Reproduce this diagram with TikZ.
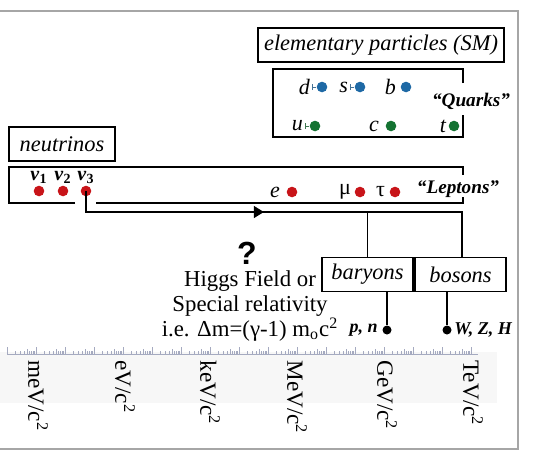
\documentclass[tikz,border=0pt]{standalone}
\usepackage{fontspec}
\setmainfont{Liberation Serif}
\newfontfamily\qmarkfont{Liberation Sans}
\usepackage{tikz}
\usetikzlibrary{arrows.meta, positioning, decorations.markings}
\usepackage{xcolor}

\definecolor{dotred}{RGB}{200,20,25}
\definecolor{dotblue}{RGB}{30,105,165}
\definecolor{dotgreen}{RGB}{20,115,50}
\definecolor{rulergray}{RGB}{165,170,192}

\tikzset{
  labelbox/.style={draw, line width=0.65pt, inner sep=0pt, minimum height=17pt, font=\fontsize{11.2}{13}\selectfont\itshape},
  pdot/.style={circle, fill=#1, inner sep=0pt, minimum size=5.3pt},
  enddot/.style={circle, fill=black, inner sep=0pt, minimum size=4.5pt},
  bracket/.style={line width=1pt},
  partlabel/.style={inner sep=0pt, font=\fontsize{11}{12}\selectfont\itshape},
  grouplabel/.style={inner sep=0pt, font=\fontsize{9.6}{11}\selectfont\bfseries\itshape},
  scaletext/.style={rotate=-90, anchor=west, inner sep=0pt, font=\fontsize{11.6}{14}\selectfont},
}

\begin{document}
\begin{tikzpicture}[x=0.5pt, y=-0.5pt]
  \useasboundingbox (0,0) rectangle (534,462);
  % frame and faint band behind the scale
  \fill[black!3] (0,352) rectangle (497,403);
  \draw[gray!70, line width=0.6pt] (-5,11) -- (518,11) -- (518,449) -- (-5,449);

  % title boxes
  \node[labelbox, minimum width=123pt] (sm) at (381,45) {elementary particles (SM)};
  \node[labelbox, minimum width=53pt] (neutrinos) at (62,144) {neutrinos};

  % quarks
  \draw[bracket] (463,83) -- (463,69) -- (273,69) -- (273,137) -- (463,137) -- (463,115);
  \node[pdot=dotblue] (d) at (322,87) {};
  \node[pdot=dotblue] (s) at (360,87) {};
  \node[pdot=dotblue] (b) at (406,87) {};
  \node[pdot=dotgreen] (u) at (315,126) {};
  \node[pdot=dotgreen] (c) at (391,126) {};
  \node[pdot=dotgreen] (t) at (454,126) {};
  \node[partlabel, left=3pt of d] (d-label) {d};
  \node[partlabel, left=3pt of s] (s-label) {s};
  \node[partlabel, left=2pt of b] (b-label) {b};
  \node[partlabel, left=3pt of u] (u-label) {u};
  \node[partlabel, left=3pt of c] (c-label) {c};
  \node[partlabel, left=1pt of t] (t-label) {t};
  \draw[dotblue!60!gray, line width=0.4pt, {Bar[width=3pt]}-] ([xshift=0.6pt]d-label.east) -- (d.west);
  \draw[dotblue!60!gray, line width=0.4pt, {Bar[width=3pt]}-] ([xshift=0.6pt]s-label.east) -- (s.west);
  \draw[dotgreen!60!gray, line width=0.4pt, {Bar[width=3pt]}-] ([xshift=0.6pt]u-label.east) -- (u.west);
  \node[grouplabel] (quarks) at (471,101) {``Quarks''};

  % leptons
  \draw[bracket] (75,203) -- (9,203) -- (9,167) -- (463,167) -- (463,175);
  \draw[bracket] (96,203) -- (463,203) -- (463,197);
  \node[pdot=dotred] (nu1) at (39,191) {};
  \node[pdot=dotred] (nu2) at (63,191) {};
  \node[pdot=dotred] (nu3) at (86,191) {};
  \node[pdot=dotred] (e) at (292,192) {};
  \node[pdot=dotred] (mu) at (360,192) {};
  \node[pdot=dotred] (tau) at (395,192) {};
  \foreach \n/\i in {nu1/1, nu2/2, nu3/3}
    \node[inner sep=0pt, above=0.8pt of \n, font=\fontsize{10}{11}\selectfont\bfseries] (\n-label) {\textit{ν}\textsubscript{\i}};
  \node[partlabel, left=3pt of e] (e-label) {e};
  \node[inner sep=0pt, left=1.5pt of mu, font=\fontsize{11}{12}\selectfont] (mu-label) {μ};
  \node[inner sep=0pt, left=2pt of tau, font=\fontsize{11}{12}\selectfont] (tau-label) {τ};
  \node[grouplabel] (leptons) at (458,189) {``Leptons''};

  % composite particles
  \node[labelbox, minimum width=45.5pt] (baryons) at (367.5,274.5) {baryons};
  \node[labelbox, minimum width=45.5pt] (bosons) at (460.5,274.5) {bosons};
  \coordinate (junction) at (462,212);
  \draw[line width=0.7pt, postaction={decorate},
    decoration={markings, mark=at position 0.45 with {\arrow{Triangle[length=5pt, width=6pt]}}}]
    (nu3.center) |- (junction) -- (junction |- bosons.north);
  \draw[line width=0.7pt] (baryons.north |- junction) -- (baryons.north);
  \node[enddot] (pn) at (387,330) {};
  \node[enddot] (wzh) at (447,330) {};
  \draw[line width=0.7pt] (pn |- baryons.south) -- (pn);
  \draw[line width=0.7pt] (wzh |- bosons.south) -- (wzh);
  \node[grouplabel, left=2pt of pn, font=\fontsize{9}{10}\selectfont\bfseries\itshape] (pn-label) {p, n};
  \node[grouplabel, right=1pt of wzh, font=\fontsize{9}{10}\selectfont\bfseries\itshape] (wzh-label) {W, Z, H};

  % mass origin
  \node[font=\fontsize{16}{18}\selectfont\qmarkfont\bfseries, inner sep=0pt] (question) at (247,253) {?};
  \node[align=center, inner sep=0pt, font=\fontsize{11.4}{12.6}\selectfont] (origin) at (250,306)
    {Higgs Field or\\Special relativity\\i.e. Δm=(γ-1) m\textsubscript{o}c\textsuperscript{2}};

  % log scale
  \draw[rulergray, line width=0.5pt] (7,354) -- (478,354);
  \foreach \k in {0,...,16} {
    \foreach \m in {1,...,9} {
      \pgfmathsetmacro\tx{7+29*(\k+log10(\m))}
      \pgfmathsetmacro\th{\m==1 ? 7 : (\m==5 ? 5 : 3.5)}
      \ifdim\tx pt<478pt
        \draw[rulergray, line width=0.45pt] (\tx,354) -- (\tx,354-\th);
      \fi
    }
  }
  \foreach \x/\u in {38/meV, 125/eV, 210/keV, 297/MeV, 387/GeV, 473/TeV}
    \node[scaletext] (unit-\u) at (\x,360) {\u/c\textsuperscript{2}};
\end{tikzpicture}
\end{document}
